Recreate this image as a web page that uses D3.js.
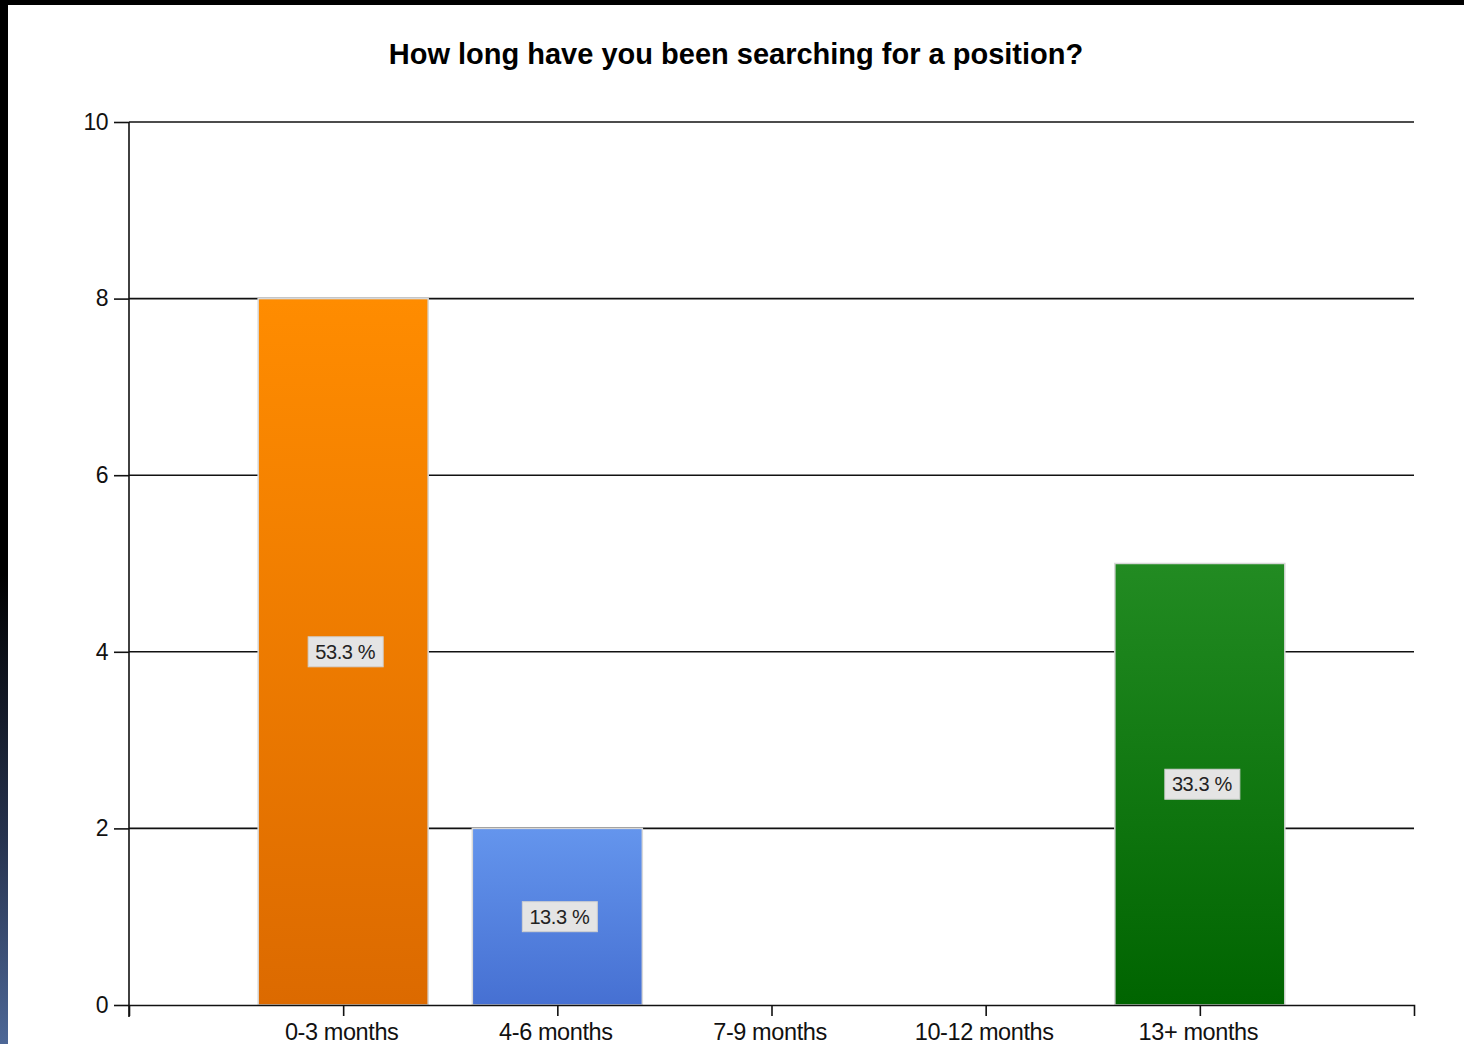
<!DOCTYPE html>
<html><head><meta charset="utf-8">
<script src="https://cdn.jsdelivr.net/npm/d3@7"></script>
<style>html,body{margin:0;padding:0;background:#fff;overflow:hidden}</style>
</head><body>
<script>
const categories = ["0-3 months","4-6 months","7-9 months","10-12 months","13+ months"];
const values = [8, 2, 0, 0, 5];
const percentLabels = ["53.3 %","13.3 %","","","33.3 %"];
const yTicks = [0,2,4,6,8,10];
const barTop = ["#FF8C00","#6495ED","#999","#999","#228B22"];
const barBottom = ["#DC6A00","#4670D2","#777","#777","#006400"];
const title = "How long have you been searching for a position?";

(function(){
const W=1464,H=1044;
const svg=d3.select("body").append("svg").attr("width",W).attr("height",H);
const defs=svg.append("defs");
const lg=defs.append("linearGradient").attr("id","frame").attr("x1",0).attr("y1",0).attr("x2",0).attr("y2",1);
lg.append("stop").attr("offset","0%").attr("stop-color","#000");
lg.append("stop").attr("offset","55%").attr("stop-color","#000");
lg.append("stop").attr("offset","80%").attr("stop-color","#26324d");
lg.append("stop").attr("offset","100%").attr("stop-color","#4d6796");
categories.forEach((c,i)=>{
  const g=defs.append("linearGradient").attr("id","g"+i).attr("x1",0).attr("y1",0).attr("x2",0).attr("y2",1);
  g.append("stop").attr("offset","0%").attr("stop-color",barTop[i]);
  g.append("stop").attr("offset","100%").attr("stop-color",barBottom[i]);
});
svg.append("rect").attr("x",0).attr("y",0).attr("width",W).attr("height",H).attr("fill","#fff");
svg.append("rect").attr("x",0).attr("y",0).attr("width",W).attr("height",5).attr("fill","#000");
svg.append("rect").attr("x",0).attr("y",0).attr("width",8).attr("height",H).attr("fill","url(#frame)");

const pLeft=129,pRight=1414,pTop=122,pBottom=1005;
const x=d3.scalePoint().domain(categories).range([pLeft,pRight]).padding(1);
const y=d3.scaleLinear().domain([0,10]).range([pBottom,pTop]);
const font="'Liberation Sans', Arial, sans-serif";

svg.append("text").attr("x",736).attr("y",64).attr("text-anchor","middle")
  .attr("font-family",font).attr("font-weight","bold").attr("font-size",29).attr("fill","#000").text(title);

// gridlines
svg.append("g").selectAll("line").data(yTicks.filter(d=>d>0)).join("line")
  .attr("x1",pLeft).attr("x2",pRight).attr("y1",d=>y(d)).attr("y2",d=>y(d))
  .attr("stroke","#111").attr("stroke-width",1.6);

// bars
const bw=170;
svg.append("g").selectAll("rect").data(values).join("rect")
  .attr("x",(d,i)=>x(categories[i])-bw/2).attr("width",bw)
  .attr("y",d=>y(d)).attr("height",d=>pBottom-y(d))
  .attr("fill",(d,i)=>`url(#g${i})`).attr("stroke","#d8d8d8").attr("stroke-width",1.5)
  .style("display",d=>d>0?null:"none");

// y axis
const yAxis=d3.axisLeft(y).tickValues(yTicks).tickSize(15).tickPadding(6).tickFormat(d3.format("d"));
const ya=svg.append("g").attr("transform",`translate(${pLeft},0)`).call(yAxis);
ya.select(".domain").remove();
ya.selectAll(".tick line").attr("stroke","#111").attr("stroke-width",1.6);
ya.selectAll("text").attr("font-family",font).attr("font-size",23).attr("fill","#111").attr("letter-spacing","-0.5");
svg.append("line").attr("x1",pLeft).attr("x2",pLeft).attr("y1",pTop).attr("y2",1017).attr("stroke","#111").attr("stroke-width",1.6);

// x axis
const xAxis=d3.axisBottom(x).tickSize(11).tickSizeOuter(11).tickPadding(5);
const xa=svg.append("g").attr("transform",`translate(0,${pBottom})`).call(xAxis);
xa.select(".domain").attr("stroke","#111").attr("stroke-width",1.6);
xa.selectAll(".tick line").attr("stroke","#111").attr("stroke-width",1.6);
xa.selectAll("text").attr("font-family",font).attr("font-size",23.5).attr("fill","#111")
  .attr("dy","0.8em").attr("letter-spacing","-0.4").attr("dx","-2");

// value labels
const lbl=svg.append("g").selectAll("g").data(values).join("g")
  .style("display",d=>d>0?null:"none")
  .attr("transform",(d,i)=>`translate(${x(categories[i])+2},${(y(d)+pBottom)/2})`);
lbl.append("rect").attr("x",-37).attr("y",-15).attr("width",75).attr("height",30)
  .attr("fill","#e4e4e4").attr("stroke","#cfcfcf").attr("stroke-width",1);
lbl.append("text").attr("text-anchor","middle").attr("dy","0.36em").attr("letter-spacing","-0.4")
  .attr("font-family",font).attr("font-size",20).attr("fill","#222").text((d,i)=>percentLabels[i]);
})();
</script>
</body></html>
